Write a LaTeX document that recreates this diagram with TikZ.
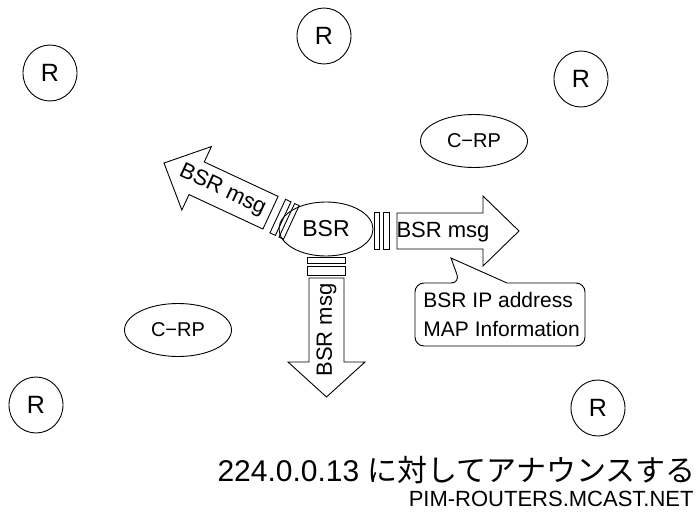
\documentclass[tikz,border=0pt]{standalone}
\usepackage{fontspec}
\setmainfont{Liberation Sans}
\newfontfamily\jpfont{Noto Sans CJK JP}
\usetikzlibrary{shapes.geometric}
\begin{document}
\begin{tikzpicture}[x=1pt,y=-1pt,line width=0.9pt,
  router/.style={ellipse,draw,minimum width=54pt,minimum height=56pt,inner sep=0pt,font=\fontsize{25}{29}\selectfont},
  crp/.style={ellipse,draw,minimum width=107pt,minimum height=53pt,inner sep=0pt,font=\fontsize{20}{24}\selectfont},
  bsr/.style={ellipse,draw,minimum width=94pt,minimum height=54pt,inner sep=0pt,font=\fontsize{23}{27}\selectfont},
  lbl/.style={inner sep=0pt,font=\fontsize{22}{26}\selectfont},
  arr/.style={draw,line join=miter}]
\useasboundingbox (0,0) rectangle (699,520);
% routers
\node[router] (r1) at (50,73) {R};
\node[router] (r2) at (324,36) {R};
\node[router] (r3) at (581,79) {R};
\node[router] (r4) at (36,405) {R};
\node[router] (r5) at (598,408) {R};
% candidate RPs
\node[crp] (c1) at (474,141) {C−RP};
\node[crp] (c2) at (178,330) {C−RP};
% BSR
\node[bsr] (bsr) at (326,229) {BSR};
% right arrow
\begin{scope}[shift={(397,231)}]
  \draw[arr] (0,-18) -- (86,-18) -- (86,-35) -- (122,0) -- (86,35) -- (86,18) -- (0,18) -- cycle;
  \draw (-14,-18.5) rectangle (-8,18.5);
  \draw (-23,-18.5) rectangle (-18,18.5);
  \node[lbl] (m1) at (46,1) {BSR msg};
\end{scope}
% down arrow
\begin{scope}[shift={(326.5,278)},rotate=-90]
  \draw[arr] (0,-17.5) -- (84,-17.5) -- (84,-38.5) -- (119,0) -- (84,38.5) -- (84,17.5) -- (0,17.5) -- cycle;
  \draw (-12,-19) rectangle (-3,19);
  \draw (-21,-19) rectangle (-15,19);
  \node[lbl,rotate=90] (m2) at (52,0) {BSR msg};
\end{scope}
% up-left arrow
\begin{scope}[shift={(270.5,212.7)},rotate=155]
  \draw[arr] (0,-18) -- (81.5,-18) -- (81.5,-35) -- (117.5,0) -- (81.5,35) -- (81.5,18) -- (0,18) -- cycle;
  \draw (-14,-18.5) rectangle (-8,18.5);
  \draw (-23,-18.5) rectangle (-18,18.5);
  \node[lbl,rotate=-25] (m3) at (53,0) {BSR msg};
\end{scope}
% callout
\draw[rounded corners=9pt] (507,283) -- (585,283) -- (585,346) -- (415,346) -- (415,283) -- (460,283) [sharp corners] -- (451,258) -- cycle;
\node[inner sep=0pt,anchor=west,align=left,font=\fontsize{21}{29}\selectfont] (info) at (423,314.5) {BSR IP address\\MAP Information};
% bottom texts
\node[inner sep=0pt,anchor=east,font=\fontsize{30}{34}\selectfont] (ann) at (696,470) {224.0.0.13 {\jpfont に対してアナウンスする}};
\node[inner sep=0pt,anchor=east,font=\fontsize{22}{26}\selectfont] (pim) at (694,499) {PIM-ROUTERS.MCAST.NET};
\end{tikzpicture}
\end{document}
